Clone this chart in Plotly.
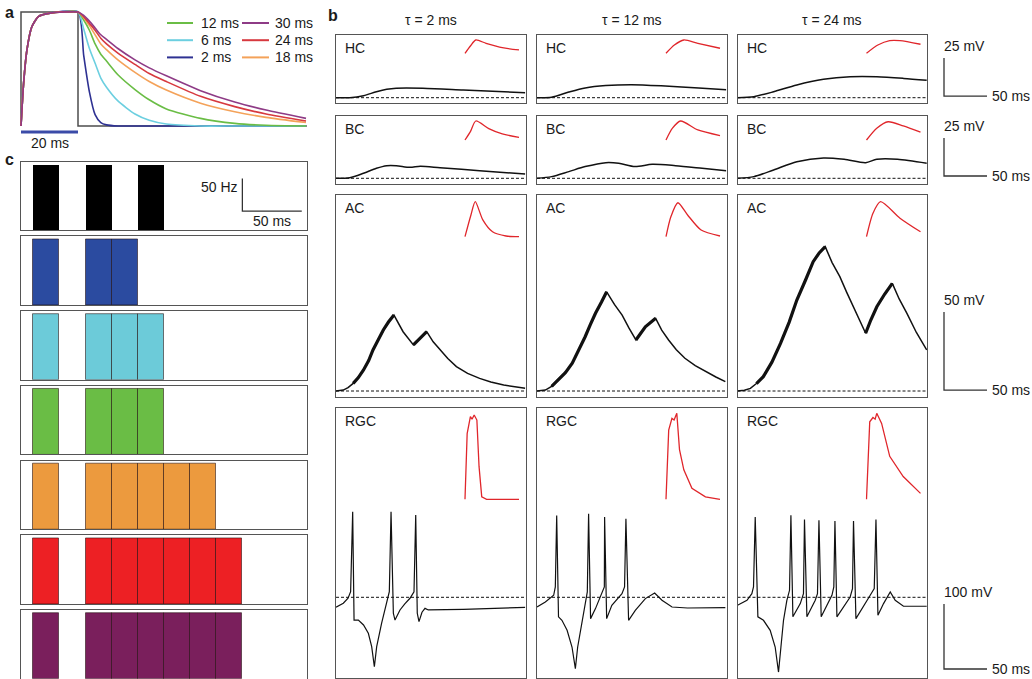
import plotly.graph_objects as go

W, H = 1032, 679
FONT = "Arial, 'Liberation Sans', sans-serif"
BOX = "#555555"

# ---------------- panel a: kernel shapes (normalised) ----------------
rise_t = [0, 0.9, 2.1, 3.8, 6.1, 10.2, 20]
rise_v = [0, 0.37, 0.67, 0.87, 0.96, 0.99, 1.0]
decay_t = [0, 2, 4, 6, 8, 10, 14, 20, 25, 31, 43, 55, 66, 80]
decay_2 = [1, 0.62, 0.30, 0.10, 0.03, 0.01, 0, 0, 0, 0, 0, 0, 0, 0]
decay_6 = [1, 0.85, 0.68, 0.55, 0.42, 0.34, 0.22, 0.105, 0.05, 0.017, 0, 0, 0, 0]
decay_12 = [1, 0.93, 0.84, 0.72, 0.63, 0.57, 0.45, 0.32, 0.23, 0.15, 0.067, 0.023, 0.006, 0]
decay_18 = [1, 0.95, 0.88, 0.80, 0.72, 0.67, 0.58, 0.47, 0.39, 0.315, 0.20, 0.125, 0.076, 0.03]
decay_24 = [1, 0.96, 0.90, 0.84, 0.77, 0.72, 0.64, 0.54, 0.46, 0.39, 0.26, 0.17, 0.105, 0.044]
decay_30 = [1, 0.97, 0.92, 0.86, 0.80, 0.76, 0.68, 0.58, 0.51, 0.44, 0.31, 0.21, 0.14, 0.067]
pulse_ms = 20
taus = [2, 6, 12, 18, 24, 30]
tau_colors = {2: "#2e3192", 6: "#6ccfe0", 12: "#6abd45", 18: "#f4a259", 24: "#d7393f", 30: "#8e3b86"}
decays = {2: decay_2, 6: decay_6, 12: decay_12, 18: decay_18, 24: decay_24, 30: decay_30}
legend_cols = [[12, 6, 2], [30, 24, 18]]

# ---------------- panel c: input firing rates (Hz) per 22 ms bin ----------------
bin_centers = [11, 33, 55, 77, 99, 121, 143, 165, 187, 209]
bin_width = 22
rate_input = [100, 0, 100, 0, 100, 0, 0, 0, 0, 0]
rate_tau2 = [100, 0, 100, 100, 0, 0, 0, 0, 0, 0]
rate_tau6 = [100, 0, 100, 100, 100, 0, 0, 0, 0, 0]
rate_tau12 = [100, 0, 100, 100, 100, 0, 0, 0, 0, 0]
rate_tau18 = [100, 0, 100, 100, 100, 100, 100, 0, 0, 0]
rate_tau24 = [100, 0, 100, 100, 100, 100, 100, 100, 0, 0]
rate_tau30 = [100, 0, 100, 100, 100, 100, 100, 100, 0, 0]
rate_rows = [rate_input, rate_tau2, rate_tau6, rate_tau12, rate_tau18, rate_tau24, rate_tau30]
rate_colors = ["#000000", "#2b4ba0", "#6ccbd9", "#6abd45", "#ec9a3e", "#ed2024", "#7a1f5c"]

# ---------------- panel b: membrane potentials (ms, mV rel. rest) ----------------
col_taus = [2, 12, 24]
hc_t2_t = [0, 16, 32, 47, 59, 70, 101, 148, 220]
hc_t2_v = [0, 0, 1.3, 3.9, 5.5, 6.2, 6.2, 5.1, 3.3]
hc_t12_t = [0, 17, 37, 56, 80, 110, 149, 188, 220]
hc_t12_v = [0, 0.3, 3.7, 6.4, 8.0, 8.6, 7.7, 6.4, 5.3]
hc_t24_t = [0, 19, 42, 69, 100, 131, 162, 193, 220]
hc_t24_v = [0, 0.7, 3.9, 8.4, 12.1, 13.8, 13.8, 12.7, 11.4]

bc_t2_t = [0, 16, 32, 47, 59, 70, 86, 98, 121, 167, 220]
bc_t2_v = [0, 0.4, 3.3, 6.6, 8.3, 8.3, 7.2, 7.9, 7.0, 5.0, 2.8]
bc_t12_t = [0, 17, 37, 56, 80, 95, 114, 134, 161, 192, 220]
bc_t12_v = [0, 1.1, 4.4, 7.7, 10.3, 9.9, 7.7, 9.2, 8.3, 6.6, 5.0]
bc_t24_t = [0, 19, 42, 69, 100, 124, 149, 162, 186, 220]
bc_t24_v = [0, 1.1, 5.5, 10.9, 13.4, 12.5, 10.3, 12.5, 12.5, 9.9]

ac_t2_t = [0, 8.5, 14, 20, 26, 32, 38, 43, 49, 55, 61, 67.4, 78, 90, 105.5, 113, 121, 130, 140, 153, 167, 180, 195, 220]
ac_t2_v = [0, 0.6, 2.2, 4.9, 8.6, 13.5, 19.5, 26.3, 33.0, 39.1, 44.2, 48.7, 38.0, 29.5, 38.0, 31.5, 26.3, 20.8, 15.6, 11.3, 8.1, 5.8, 3.8, 1.7]
ac_t12_t = [0, 9.7, 17, 25, 33, 41, 48, 56, 62, 68, 75, 81, 90, 99, 107, 115, 126, 138, 145, 153, 162, 172, 184, 196, 208, 219]
ac_t12_v = [0, 0.6, 3.0, 7.1, 11.8, 17.8, 25.5, 34.8, 42.5, 49.8, 57.0, 63.6, 55.5, 48.7, 40.3, 32.7, 41.2, 46.6, 39.0, 32.7, 26.5, 21.0, 16.2, 12.4, 9.0, 6.0]
ac_t24_t = [0, 8, 15, 22, 30, 40, 50, 60, 69, 79, 88, 95, 102, 110, 119, 127, 135, 142, 149, 155, 162, 171, 180, 188, 197, 208, 220]
ac_t24_v = [0, 0.5, 1.7, 4.8, 9.2, 18.5, 30.5, 44.0, 58.3, 71.0, 82.9, 88.5, 92.5, 82.3, 73.3, 63.2, 54.0, 45.2, 37.0, 45.5, 54.0, 62.0, 69.0, 59.0, 49.8, 37.5, 26.3]
# stimulus-driven ripple windows (ms) on the rising phases
ac_ripple_t2 = [(20, 67.4), (90, 105.5)]
ac_ripple_t12 = [(17, 81), (115, 138)]
ac_ripple_t24 = [(22, 102), (149, 180)]

rgc_t2_t = [0, 8.5, 14, 17, 19.4, 21, 26, 32, 37.6, 41.5, 44.6, 47.3, 53, 59, 62, 64, 66.7, 68.6, 74.4, 80, 86, 90.7, 92.7, 94.5, 96.5, 100, 103.5, 107.3, 120, 148, 220]
rgc_t2_v = [-15.4, -9.2, -1.5, 8.6, 131.7, -35, -35, -42.6, -55.4, -76, -106.8, -76, -40, -9.2, 8.6, 131.7, -24.6, -35, -19.5, -10, -1.5, 8.6, 126.6, -24.6, -37.5, -23, -17, -19.5, -19.5, -18.5, -15.4]
rgc_t12_t = [0, 9.7, 19.4, 21.3, 22.9, 25, 29, 35, 40.7, 44.6, 47.3, 52.4, 56.2, 58.5, 60, 62.3, 68, 75.6, 78.3, 78.6, 81, 87, 98.8, 101.8, 103.4, 106.5, 114.3, 126, 136.8, 145.3, 157, 175, 219]
rgc_t12_v = [-14.9, -7.2, 3.1, 15.9, 126, -30, -35.4, -50.8, -76.5, -109.7, -76.5, -35.4, -4.6, 8.2, 128.7, -32.8, -17.4, 5.6, 15.9, 123.5, -32.8, -12.3, 5.6, 15.9, 121, -35.4, -20, -2, 6.6, -4.6, -14.9, -16.5, -15.9]
rgc_t24_t = [0, 11, 16.7, 18.6, 20.6, 23.7, 30.2, 38, 43.8, 47.7, 50.5, 53.5, 57.4, 60.5, 62.1, 64.4, 73, 76.7, 77.9, 80.7, 90.4, 93, 94.7, 97.3, 109.8, 112, 113.3, 115.6, 131, 133.7, 134.9, 137.7, 154.3, 159, 161, 163.3, 169.8, 177.6, 183.4, 193, 220]
rgc_t24_v = [-12.3, -4.6, 5.6, 15.9, 123.5, -30, -35.4, -50.8, -76.5, -115, -76.5, -35.4, -4.6, 10.8, 126.2, -30, -9.7, 5.6, 119.5, -30, -4.6, 5.6, 118.5, -30, 3.1, 15.9, 117.4, -30, 0.5, 13.3, 117.4, -32.8, 3.1, 13.3, 119.5, -27.7, -9.7, 8.2, -4.6, -13.8, -13.8]

# insets: normalised time course of each trace
in_hc_t2 = ([0, 0.1, 0.2, 0.39, 0.69, 1.0], [0, 0.55, 1.0, 0.75, 0.42, 0.25])
in_hc_t12 = ([0, 0.155, 0.33, 0.59, 1.0], [0, 0.62, 1.0, 0.75, 0.38])
in_hc_t24 = ([0, 0.21, 0.43, 0.62, 1.0], [0, 0.62, 0.95, 0.95, 0.68])
in_bc_t2 = ([0, 0.1, 0.2, 0.44, 0.69, 1.0], [0, 0.44, 1.0, 0.6, 0.32, 0.14])
in_bc_t12 = ([0, 0.12, 0.27, 0.59, 1.0], [0, 0.62, 1.0, 0.53, 0.23])
in_bc_t24 = ([0, 0.19, 0.4, 0.68, 1.0], [0, 0.62, 0.96, 0.74, 0.41])
in_ac_t2 = ([0, 0.11, 0.19, 0.33, 0.51, 0.76, 1.0], [0, 0.62, 1.0, 0.48, 0.14, 0.02, 0])
in_ac_t12 = ([0, 0.09, 0.22, 0.4, 0.65, 1.0], [0, 0.57, 0.97, 0.62, 0.19, 0.02])
in_ac_t24 = ([0, 0.12, 0.26, 0.62, 1.0], [0, 0.67, 1.0, 0.53, 0.14])
in_rgc_t2 = ([0, 0.04, 0.1, 0.13, 0.17, 0.2, 0.22, 0.26, 0.31, 0.4, 1.0],
             [0, 0.78, 0.98, 0.95, 1.0, 0.97, 0.94, 0.39, 0.03, 0, 0])
in_rgc_t12 = ([0, 0.05, 0.11, 0.15, 0.2, 0.25, 0.33, 0.48, 0.73, 1.0],
              [0, 0.82, 0.96, 0.94, 1.02, 0.59, 0.35, 0.13, 0.03, 0])
in_rgc_t24 = ([0, 0.06, 0.12, 0.16, 0.19, 0.28, 0.43, 0.68, 1.0],
              [0, 0.92, 0.97, 0.95, 1.02, 0.9, 0.51, 0.27, 0.07])

cell_rows = [
    ("HC", [(hc_t2_t, hc_t2_v), (hc_t12_t, hc_t12_v), (hc_t24_t, hc_t24_v)],
     [in_hc_t2, in_hc_t12, in_hc_t24], 25, None),
    ("BC", [(bc_t2_t, bc_t2_v), (bc_t12_t, bc_t12_v), (bc_t24_t, bc_t24_v)],
     [in_bc_t2, in_bc_t12, in_bc_t24], 25, None),
    ("AC", [(ac_t2_t, ac_t2_v), (ac_t12_t, ac_t12_v), (ac_t24_t, ac_t24_v)],
     [in_ac_t2, in_ac_t12, in_ac_t24], 50, [ac_ripple_t2, ac_ripple_t12, ac_ripple_t24]),
    ("RGC", [(rgc_t2_t, rgc_t2_v), (rgc_t12_t, rgc_t12_v), (rgc_t24_t, rgc_t24_v)],
     [in_rgc_t2, in_rgc_t12, in_rgc_t24], 100, None),
]
scale_ms = 50
scale_hz = 50

# ---------------- layout helpers (pixel geometry) ----------------
fig = go.Figure()
layout = {}
annotations = []
shapes = []
n_axes = [0]


def add_axes(x0, x1, top, bottom, xr, yr, box=False):
    n_axes[0] += 1
    n = n_axes[0]
    sfx = "" if n == 1 else str(n)
    common = dict(showgrid=False, zeroline=False, showticklabels=False, ticks="", fixedrange=True)
    if box:
        common.update(showline=True, mirror=True, linecolor=BOX, linewidth=1.3)
    else:
        common.update(showline=False)
    layout["xaxis" + sfx] = dict(domain=[x0 / W, x1 / W], range=xr, anchor="y" + sfx, **common)
    layout["yaxis" + sfx] = dict(domain=[1 - bottom / H, 1 - top / H], range=yr, anchor="x" + sfx, **common)
    return "x" + sfx, "y" + sfx


def text(x, y, s, size=14, xanchor="center", yanchor="middle", bold=False, **kw):
    annotations.append(dict(x=x, y=y, text=f"<b>{s}</b>" if bold else s, showarrow=False,
                            xanchor=xanchor, yanchor=yanchor,
                            font=dict(family=FONT, size=size, color="#1a1a1a"), **kw))


def ptext(px, py, s, **kw):
    text(px / W, 1 - py / H, s, xref="paper", yref="paper", **kw)


# ---------------- panel a ----------------
ax, ay = add_axes(19, 309, 10, 136, [-0.70, 101.05], [-0.0877, 1.0175])
fig.add_trace(go.Scatter(x=[0, 0, pulse_ms, pulse_ms, 100.3], y=[0, 1, 1, 0, 0], mode="lines",
                         line=dict(color="#4d4d4d", width=1.5), xaxis=ax, yaxis=ay, showlegend=False))
for tau in taus:
    xs = rise_t + [pulse_ms + d for d in decay_t[1:]]
    ys = rise_v + decays[tau][1:]
    fig.add_trace(go.Scatter(x=xs, y=ys, mode="lines", name=f"{tau} ms",
                             line=dict(color=tau_colors[tau], width=1.6, shape="spline", smoothing=0.6),
                             xaxis=ax, yaxis=ay, showlegend=False))
fig.add_trace(go.Scatter(x=[0, pulse_ms], y=[-0.0526, -0.0526], mode="lines",
                         line=dict(color="#3b4ba8", width=3), xaxis=ax, yaxis=ay, showlegend=False))
text(pulse_ms / 2, -0.0526, f"{pulse_ms} ms", xref=ax, yref=ay, yanchor="top", yshift=-1)

# legend keys for the decay constants (two columns)
for (kx0, kx1, tx), col in zip([(167, 193, 199), (242, 269, 273)], legend_cols):
    for r, tau in enumerate(col):
        ky = 23 + 17.2 * r
        shapes.append(dict(type="line", xref="paper", yref="paper", x0=kx0 / W, x1=kx1 / W,
                           y0=1 - ky / H, y1=1 - ky / H, line=dict(color=tau_colors[tau], width=2)))
        ptext(tx, ky, f"{tau} ms", xanchor="left")

# ---------------- panel c ----------------
for i, (rates, col) in enumerate(zip(rate_rows, rate_colors)):
    top = 161.7 + 74.75 * i
    cx, cy = add_axes(21, 307, top, top + 68.5, [-10.35, 230.4], [0, 104.6], box=True)
    xs = [c for c, r in zip(bin_centers, rates) if r > 0]
    ys = [r for r in rates if r > 0]
    edge = dict(width=0) if i == 0 else dict(color="rgba(30,10,10,0.55)", width=1)
    fig.add_trace(go.Bar(x=xs, y=ys, width=bin_width, marker=dict(color=col, line=edge),
                         xaxis=cx, yaxis=cy, showlegend=False))
    if i == 0:
        fig.add_trace(go.Scatter(x=[176, 176, 176 + scale_ms], y=[29 + scale_hz, 29, 29], mode="lines",
                                 line=dict(color="#333", width=1.3), xaxis=cx, yaxis=cy, showlegend=False))
        text(176, 29 + 37, f"{scale_hz} Hz", xref=cx, yref=cy, xanchor="right", xshift=-2)
        text(176 + scale_ms / 2, 29, f"{scale_ms} ms", xref=cx, yref=cy, yanchor="top", yshift=0)

# ---------------- panel b ----------------
col_left = [336, 537, 737.5]
col_w = 189.5
px_per_ms = 0.86
rows_geom = [  # top, bottom, baseline (px), px per mV, inset top/bottom (px), scale-bar level (mV)
    (35, 103, 97.7, 1.52, 40, 53.3, 1.1),
    (116, 184, 178.3, 1.52, 121, 140, 1.5),
    (195, 397.3, 391, 1.56, 201.7, 236.7, 0.6),
    (408, 678, 597.3, 0.65, 415, 499.3, -110.3),
]
t_max = col_w / px_per_ms
for (label, traces, insets, amp, ripples), (top, bot, base, ppm, itop, ibot, sb0) in zip(cell_rows, rows_geom):
    yr = [-(bot - base) / ppm, (base - top) / ppm]
    for j, ((tt, vv), (it, iv)) in enumerate(zip(traces, insets)):
        left = col_left[j]
        bx, by = add_axes(left, left + col_w, top, bot, [0, t_max], yr, box=True)
        fig.add_trace(go.Scatter(x=[0, t_max], y=[0, 0], mode="lines",
                                 line=dict(color="#111", width=1, dash="3px,2px"),
                                 xaxis=bx, yaxis=by, showlegend=False))
        smooth = label in ("HC", "BC")
        fig.add_trace(go.Scatter(x=tt, y=vv, mode="lines",
                                 line=dict(color="#111", width=1.5 if label != "RGC" else 1.2,
                                           shape="spline" if smooth else "linear", smoothing=0.8),
                                 xaxis=bx, yaxis=by, showlegend=False))
        if ripples:
            # thicker stroke where the trace carries the fast stimulus ripple
            for (r0, r1) in ripples[j]:
                seg = [(t, v) for t, v in zip(tt, vv) if r0 <= t <= r1]
                fig.add_trace(go.Scatter(x=[p[0] for p in seg], y=[p[1] for p in seg], mode="lines",
                                         line=dict(color="#111", width=3.2),
                                         xaxis=bx, yaxis=by, showlegend=False))
        ptext(left + 7, top + 13, label, xanchor="left")
        # inset
        ih = ibot - itop
        iw = 54
        ix, iy = add_axes(left + 129 - 0.02 * iw, left + 183 + 0.02 * iw, itop - 0.1 * ih, ibot + 0.1 * ih,
                          [-0.02, 1.02], [-0.1, 1.1])
        fig.add_trace(go.Scatter(x=it, y=iv, mode="lines",
                                 line=dict(color="#e0262b", width=1.3,
                                           shape="linear" if label == "RGC" else "spline", smoothing=0.7),
                                 xaxis=ix, yaxis=iy, showlegend=False))
    # scale bar to the right of the row
    sx, sy = add_axes(938, 1032, top, bot, [-(944 - 938) / px_per_ms, (1032 - 944) / px_per_ms], yr)
    fig.add_trace(go.Scatter(x=[0, 0, scale_ms], y=[sb0 + amp, sb0, sb0], mode="lines",
                             line=dict(color="#333", width=1.3), xaxis=sx, yaxis=sy, showlegend=False))
    text(0, sb0 + amp, f"{amp} mV", xref=sx, yref=sy, xanchor="left", yanchor="bottom", yshift=2, xshift=-2)
    text(scale_ms, sb0, f"{scale_ms} ms", xref=sx, yref=sy, xanchor="left", xshift=3)

for left, tau in zip(col_left, col_taus):
    ptext(left + col_w / 2, 20, f"τ = {tau} ms")

ptext(9, 12, "a", size=16, bold=True)
ptext(333, 15, "b", size=16, bold=True)
ptext(9, 159, "c", size=16, bold=True)

fig.update_layout(**layout)
fig.update_layout(width=W, height=H, margin=dict(l=0, r=0, t=0, b=0), autosize=False,
                  paper_bgcolor="white", plot_bgcolor="rgba(0,0,0,0)", showlegend=False,
                  annotations=annotations, shapes=shapes, barmode="overlay", bargap=0,
                  font=dict(family=FONT, size=14, color="#1a1a1a"))
fig.write_html("out.html")
